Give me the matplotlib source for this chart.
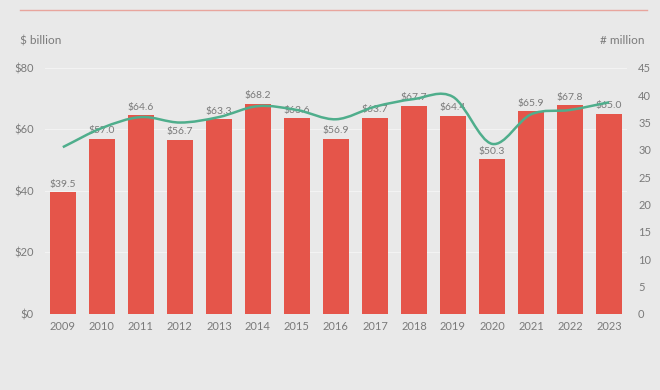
import numpy as np
import matplotlib.pyplot as plt
from matplotlib.path import Path
from matplotlib.patches import PathPatch

years = ['2009', '2010', '2011', '2012', '2013', '2014', '2015', '2016',
         '2017', '2018', '2019', '2020', '2021', '2022', '2023']
revenue = [39.5, 57.0, 64.6, 56.7, 63.3, 68.2, 63.6, 56.9,
           63.7, 67.7, 64.4, 50.3, 65.9, 67.8, 65.0]          # $ billion
users = [30.5, 34.0, 36.0, 35.0, 36.0, 38.0, 37.3, 35.6,
         37.9, 39.3, 39.7, 31.1, 36.5, 37.3, 38.7]             # million

BG = '#e9e9e9'
RED = '#e5554a'
GREEN = '#4fae8c'
TXT = '#7a7a7a'

plt.rcParams['font.family'] = ['Lato', 'DejaVu Sans']

fig = plt.figure(figsize=(6.6, 3.9), dpi=100, facecolor=BG)
ax = fig.add_axes([0.068, 0.195, 0.882, 0.631])
ax.set_facecolor(BG)

x = np.arange(len(years))
ax.bar(x, revenue, width=0.67, color=RED, zorder=2)
for xi, v in zip(x, revenue):
    ax.text(xi, v + 1.2, f'${v:.1f}', ha='center', va='bottom', fontsize=7.5, color=TXT, zorder=4)

ax.set_xlim(-0.46, len(years) - 1 + 0.46)
ax.set_ylim(0, 80)
ax.set_yticks([0, 20, 40, 60, 80])
ax.set_yticklabels([f'${t}' for t in [0, 20, 40, 60, 80]])
ax.set_xticks(x)
ax.set_xticklabels(years)
ax.tick_params(axis='both', length=0, labelsize=8, colors=TXT)
ax.tick_params(axis='y', pad=8)
ax.tick_params(axis='x', pad=5)
ax.grid(axis='y', color='#f3f3f3', linewidth=0.8, zorder=0)
for s in ax.spines.values():
    s.set_visible(False)

# right axis: smooth curve through user counts
ax2 = ax.twinx()
ax2.set_ylim(0, 45)
ax2.set_yticks(range(0, 46, 5))
ax2.tick_params(axis='y', length=0, labelsize=8, colors=TXT, pad=8)
for s in ax2.spines.values():
    s.set_visible(False)

ys = np.array(users)
verts = [(x[0], ys[0])]
codes = [Path.MOVETO]
for i in range(len(x) - 1):
    y0 = ys[i - 1] if i > 0 else ys[i]
    y3 = ys[i + 2] if i + 2 < len(ys) else ys[i + 1]
    m1 = (ys[i + 1] - y0) / (2 if i > 0 else 1)
    m2 = (y3 - ys[i]) / (2 if i + 2 < len(ys) else 1)
    verts += [(x[i] + 1 / 3, ys[i] + m1 / 3), (x[i + 1] - 1 / 3, ys[i + 1] - m2 / 3), (x[i + 1], ys[i + 1])]
    codes += [Path.CURVE4] * 3
ax2.add_patch(PathPatch(Path(verts, codes), facecolor='none', edgecolor=GREEN, linewidth=1.8, zorder=3))

fig.text(20 / 660, 1 - 41 / 390, '$ billion', fontsize=8.5, color=TXT, ha='left', va='center')
fig.text(645 / 660, 1 - 41 / 390, '# million', fontsize=8.5, color=TXT, ha='right', va='center')
fig.add_artist(plt.Line2D([20 / 660, 647 / 660], [1 - 10 / 390, 1 - 10 / 390], color='#e8a59d', linewidth=1))

fig.savefig('out.png', dpi=100, facecolor=BG)
